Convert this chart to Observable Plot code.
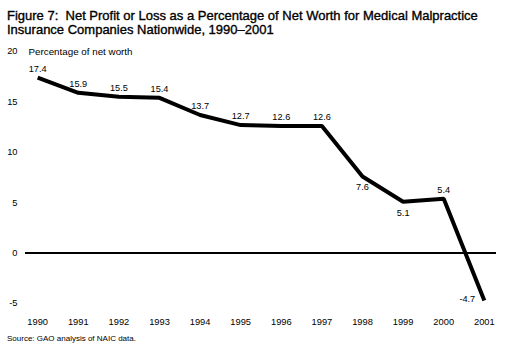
<!DOCTYPE html>
<html>
<head>
<meta charset="utf-8">
<script src="https://cdn.jsdelivr.net/npm/d3@7"></script>
<script src="https://cdn.jsdelivr.net/npm/@observablehq/plot@0.6"></script>
<style>
  html, body { margin: 0; padding: 0; background: #fff; }
  body { width: 507px; height: 352px; position: relative; overflow: hidden; font-family: "Liberation Sans", Arial, sans-serif; }
  .title { position: absolute; left: 7px; font-size: 13px; font-weight: normal; -webkit-text-stroke: 0.35px #000; color: #000; white-space: nowrap; line-height: 16px; }
  #t1 { top: 8px; }
  #t2 { top: 21.5px; }
  #chart { position: absolute; left: 0; top: 40px; }
  #source { position: absolute; left: 7px; top: 334px; font-size: 8px; color: #000; white-space: nowrap; }
</style>
</head>
<body>
<div class="title" id="t1">Figure 7:&nbsp; Net Profit or Loss as a Percentage of Net Worth for Medical Malpractice</div>
<div class="title" id="t2">Insurance Companies Nationwide, 1990–2001</div>
<div id="chart"></div>
<div id="source">Source: GAO analysis of NAIC data.</div>
<script>
const years = [1990, 1991, 1992, 1993, 1994, 1995, 1996, 1997, 1998, 1999, 2000, 2001];
const values = [17.4, 15.9, 15.5, 15.4, 13.7, 12.7, 12.6, 12.6, 7.6, 5.1, 5.4, -4.7];
const yTicks = [20, 15, 10, 5, 0, -5];
const yLabel = "Percentage of net worth";
const belowYears = [1998, 1999];
const leftYears = [2001];

const data = years.map((y, i) => ({year: y, value: values[i]}));
const fmt = d => d.value.toFixed(1);
const above = data.filter(d => !belowYears.includes(d.year) && !leftYears.includes(d.year));
const below = data.filter(d => belowYears.includes(d.year));
const left = data.filter(d => leftYears.includes(d.year));

const plot = Plot.plot({
  width: 507,
  height: 292,
  marginTop: 11,
  marginBottom: 29,
  marginLeft: 25,
  marginRight: 11,
  style: {fontFamily: "Liberation Sans, Arial, sans-serif", fontSize: "9px", color: "#000", background: "#fff"},
  x: {domain: [1989.7, 2001.3], ticks: years, tickFormat: d => String(d)},
  y: {domain: [-5, 20], ticks: yTicks, tickFormat: d => String(d)},
  marks: [
    Plot.axisX({ticks: years, tickFormat: d => String(d), tickSize: 0, tickPadding: 15, fontSize: 9.3, label: null}),
    Plot.axisY({ticks: yTicks, tickFormat: d => String(d), tickSize: 0, tickPadding: 8, fontSize: 9.3, label: null}),
    Plot.text([yLabel], {frameAnchor: "top-left", dx: 3, textAnchor: "start", lineAnchor: "middle", fontSize: 9.8}),
    Plot.ruleY([0], {stroke: "#000", strokeWidth: 2}),
    Plot.line(data, {x: "year", y: "value", stroke: "#000", strokeWidth: 4, strokeLinejoin: "miter", strokeLinecap: "butt"}),
    Plot.text(above, {x: "year", y: "value", text: fmt, dy: -9, fontSize: 9.2}),
    Plot.text(below, {x: "year", y: "value", text: fmt, dy: 11, fontSize: 9.2}),
    Plot.text(left, {x: "year", y: "value", text: fmt, dx: -17, dy: -1, fontSize: 9.2})
  ]
});
document.getElementById("chart").appendChild(plot);
</script>
</body>
</html>
